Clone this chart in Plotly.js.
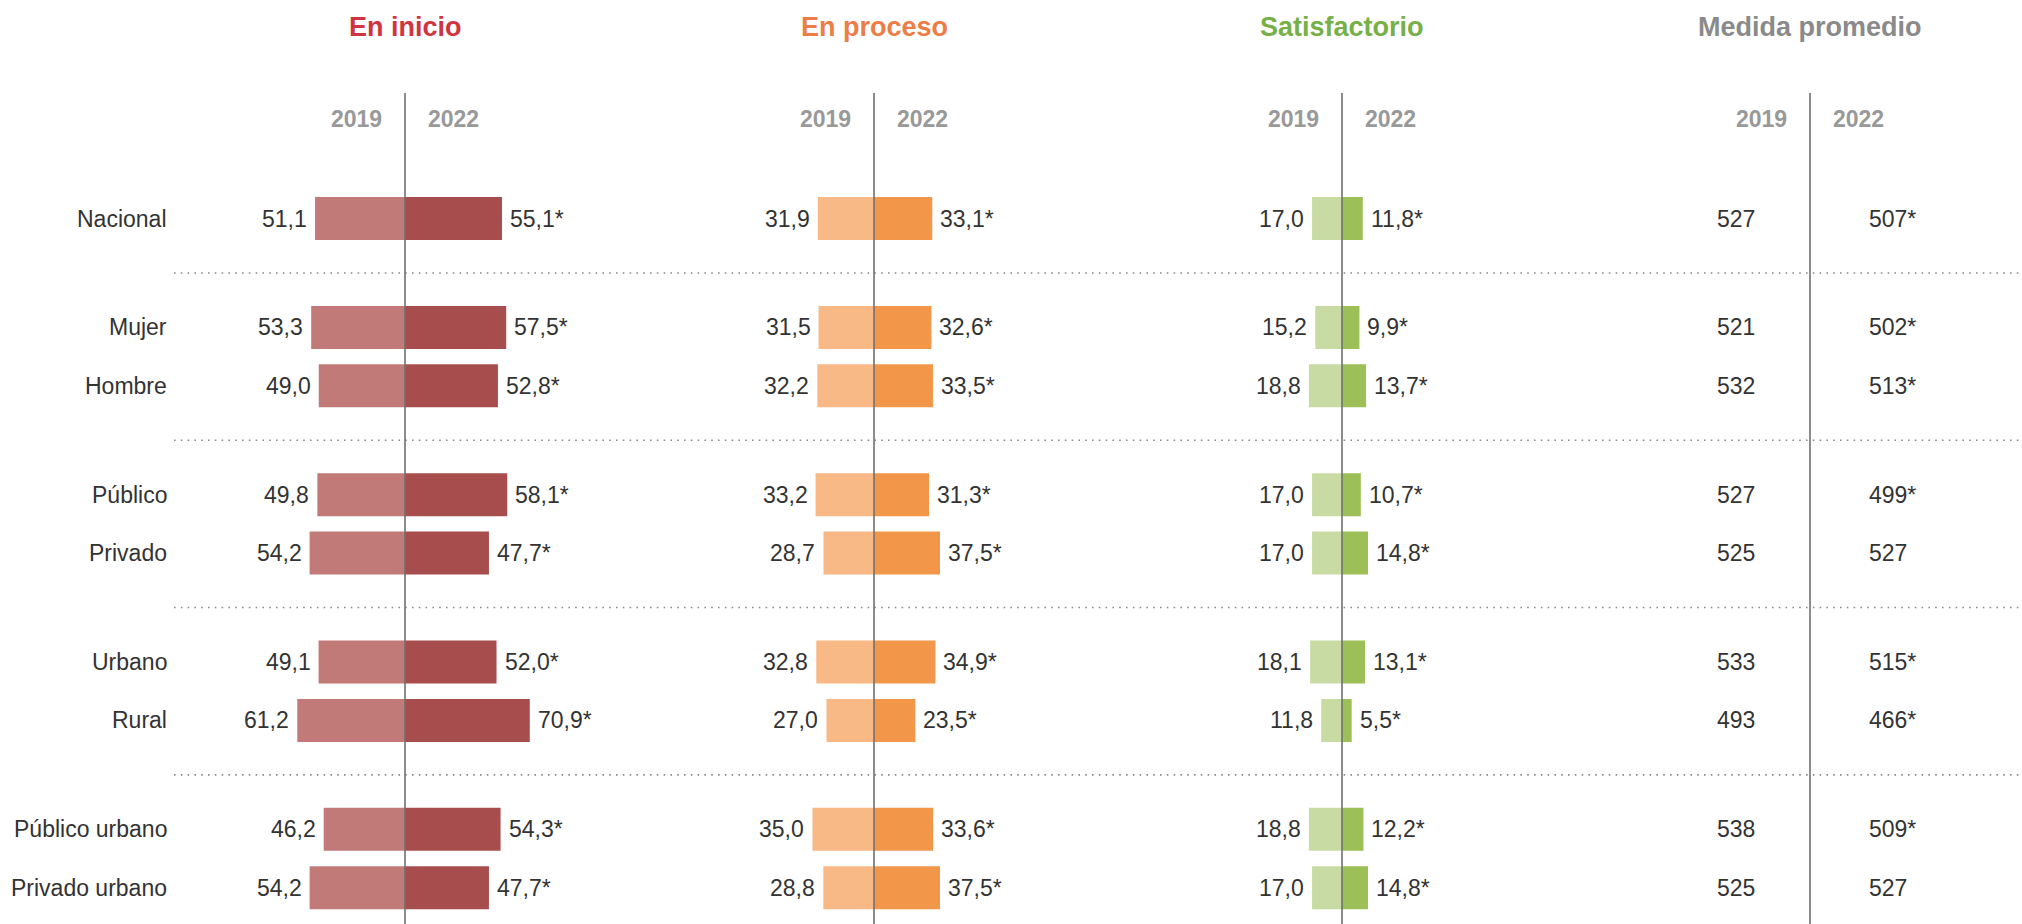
<!DOCTYPE html>
<html>
<head>
<meta charset="utf-8">
<script src="https://cdn.plot.ly/plotly-3.0.1.min.js"></script>
<style>
html,body{margin:0;padding:0;background:#fff;}
#chart{width:2022px;height:924px;}
</style>
</head>
<body>
<div id="chart"></div>
<script>
// ---------- DATA ----------
const categories = ["Nacional","Mujer","Hombre","Público","Privado","Urbano","Rural","Público urbano","Privado urbano"];
const groups = [0,1,1,2,2,3,3,4,4];
const years = ["2019","2022"];

const panelTitles = ["En inicio","En proceso","Satisfactorio","Medida promedio"];

const inicio2019 = [51.1,53.3,49.0,49.8,54.2,49.1,61.2,46.2,54.2];
const inicio2022 = [55.1,57.5,52.8,58.1,47.7,52.0,70.9,54.3,47.7];
const inicioSig  = [1,1,1,1,1,1,1,1,1];

const proceso2019 = [31.9,31.5,32.2,33.2,28.7,32.8,27.0,35.0,28.8];
const proceso2022 = [33.1,32.6,33.5,31.3,37.5,34.9,23.5,33.6,37.5];
const procesoSig  = [1,1,1,1,1,1,1,1,1];

const satis2019 = [17.0,15.2,18.8,17.0,17.0,18.1,11.8,18.8,17.0];
const satis2022 = [11.8,9.9,13.7,10.7,14.8,13.1,5.5,12.2,14.8];
const satisSig  = [1,1,1,1,1,1,1,1,1];

const medida2019 = [527,521,532,527,525,533,493,538,525];
const medida2022 = [507,502,513,499,527,515,466,509,527];
const medidaSig  = [1,1,1,1,0,1,1,1,0];

// ---------- LAYOUT CONSTANTS ----------
const W = 2022, H = 924;
const PXU = 1.76;           // pixels per percentage point
const R = 80;               // half range of each panel axis
const centers = [405, 874, 1342, 1810];
const TOP = 218.5, STEP = 58.4, GAP = 50.5, BARW = 43;
const FONT = "Liberation Sans, Arial, sans-serif";
const TXT = "#333333";

const titleColors = ["#cf3440","#ec7d46","#76b046","#8a8a8a"];
const c2019 = ["#c17a77","#f8b987","#c8dba3"];
const c2022 = ["#a84d4d","#f2974a","#9dbf57"];

const pos = categories.map((c,i)=> TOP + i*STEP + groups[i]*GAP);
const fmt = v => v.toFixed(1).replace('.', ',');

const axName = k => k===0 ? 'x' : 'x'+(k+1);
const axKey  = k => k===0 ? 'xaxis' : 'xaxis'+(k+1);

const barPanels = [
  [inicio2019, inicio2022, inicioSig],
  [proceso2019, proceso2022, procesoSig],
  [satis2019, satis2022, satisSig]
];

const traces = [];
const annotations = [];
const shapes = [];

barPanels.forEach((p,k)=>{
  const [a,b,sig] = p;
  traces.push({
    type:'bar', orientation:'h', xaxis:axName(k), yaxis:'y',
    y:pos, x:a.map(v=>-v), width:BARW,
    marker:{color:c2019[k], line:{width:0}}, hoverinfo:'skip', showlegend:false
  });
  traces.push({
    type:'bar', orientation:'h', xaxis:axName(k), yaxis:'y',
    y:pos, x:b, width:BARW,
    marker:{color:c2022[k], line:{width:0}}, hoverinfo:'skip', showlegend:false
  });
  a.forEach((v,i)=>{
    annotations.push({xref:axName(k), yref:'y', x:-v, y:pos[i], text:fmt(v),
      xanchor:'right', yanchor:'middle', xshift:-6, showarrow:false,
      font:{family:FONT,size:23,color:TXT}});
  });
  b.forEach((v,i)=>{
    annotations.push({xref:axName(k), yref:'y', x:v, y:pos[i], text:fmt(v)+(sig[i]?'*':''),
      xanchor:'left', yanchor:'middle', xshift:6, showarrow:false,
      font:{family:FONT,size:23,color:TXT}});
  });
});

// Medida promedio (text only)
medida2019.forEach((v,i)=>{
  annotations.push({xref:axName(3), yref:'y', x:0, y:pos[i], text:String(v),
    xanchor:'right', yanchor:'middle', xshift:-53, showarrow:false,
    font:{family:FONT,size:23,color:TXT}});
});
medida2022.forEach((v,i)=>{
  annotations.push({xref:axName(3), yref:'y', x:0, y:pos[i], text:String(v)+(medidaSig[i]?'*':''),
    xanchor:'left', yanchor:'middle', xshift:57, showarrow:false,
    font:{family:FONT,size:23,color:TXT}});
});

// Panel titles, year labels, center lines
for(let k=0;k<4;k++){
  annotations.push({xref:axName(k), yref:'y', x:0, y:27, text:'<b>'+panelTitles[k]+'</b>',
    xanchor:'center', yanchor:'middle', showarrow:false,
    font:{family:FONT,size:27,color:titleColors[k]}});
  annotations.push({xref:axName(k), yref:'y', x:0, y:119, text:'<b>'+years[0]+'</b>',
    xanchor:'right', yanchor:'middle', xshift:-21, showarrow:false,
    font:{family:FONT,size:23,color:'#999999'}});
  annotations.push({xref:axName(k), yref:'y', x:0, y:119, text:'<b>'+years[1]+'</b>',
    xanchor:'left', yanchor:'middle', xshift:21, showarrow:false,
    font:{family:FONT,size:23,color:'#999999'}});
  shapes.push({type:'line', xref:axName(k), yref:'y', x0:0, x1:0, y0:93, y1:H,
    line:{color:'#707070', width:1.6}, layer:'above'});
}

// Category labels
categories.forEach((c,i)=>{
  annotations.push({xref:'paper', yref:'y', x:169/W, y:pos[i], text:c,
    xanchor:'right', yanchor:'middle', showarrow:false,
    font:{family:FONT,size:23,color:TXT}});
});

// Dotted separators between groups
for(let i=1;i<categories.length;i++){
  if(groups[i]!==groups[i-1]){
    const yy = (pos[i]+pos[i-1])/2;
    shapes.push({type:'line', xref:'paper', yref:'y', x0:174/W, x1:1, y0:yy, y1:yy,
      line:{color:'#8a8a8a', width:1.6, dash:'1.6px,5.2px'}, layer:'below'});
  }
}

const layout = {
  width:W, height:H, margin:{l:0,r:0,t:0,b:0},
  paper_bgcolor:'#fff', plot_bgcolor:'rgba(0,0,0,0)',
  barmode:'overlay', showlegend:false,
  yaxis:{range:[H,0], domain:[0,1], visible:false, fixedrange:true},
  annotations:annotations, shapes:shapes
};
for(let k=0;k<4;k++){
  const c = centers[k];
  layout[axKey(k)] = {
    range:[-R,R], domain:[(c-R*PXU)/W,(c+R*PXU)/W], anchor:'y',
    visible:false, fixedrange:true, zeroline:false, showgrid:false
  };
}

Plotly.newPlot('chart', traces, layout, {staticPlot:true, displayModeBar:false});
</script>
</body>
</html>
